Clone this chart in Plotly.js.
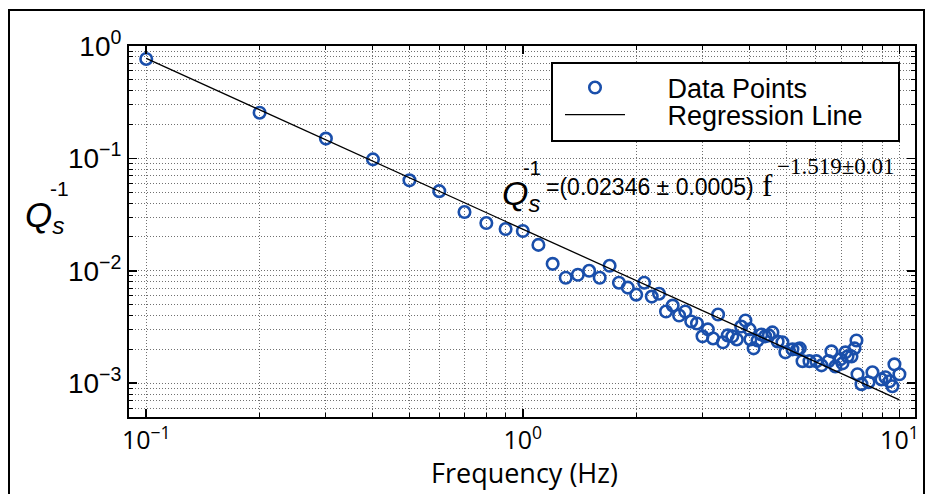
<!DOCTYPE html>
<html><head><meta charset="utf-8">
<script src="https://cdn.plot.ly/plotly-3.0.1.min.js"></script>
<style>html,body{margin:0;padding:0;background:#fff;} #chart{width:933px;height:494px;}</style>
</head><body><div id="chart"></div>
<script>
// ---- data ----
const freq = [0.1,0.2,0.3,0.4,0.5,0.6,0.7,0.8,0.9,1.0,
  1.1,1.2,1.3,1.4,1.5,1.6,1.7,1.8,1.9,2.0,
  2.1,2.2,2.3,2.4,2.5,2.6,2.7,2.8,2.9,3.0,
  3.1,3.2,3.3,3.4,3.5,3.6,3.7,3.8,3.9,4.0,
  4.02,4.1,4.2,4.3,4.4,4.5,4.6,4.75,4.89,4.98,
  5.2,5.36,5.44,5.53,5.77,6.02,6.21,6.48,6.6,6.76,
  6.97,7.06,7.19,7.28,7.46,7.6,7.69,7.74,7.93,8.28,
  8.48,8.96,9.18,9.41,9.58,9.7,10.0];
const qInv = [0.767,0.255,0.150,0.098,0.0638,0.0511,0.0333,0.0266,0.0235,0.0226,
  0.0170,0.01153,0.00867,0.00922,0.0100,0.00867,0.01107,0.00783,0.00708,0.00613,
  0.00783,0.00589,0.00625,0.00434,0.00490,0.00400,0.00434,0.00354,0.00340,0.00261,
  0.00301,0.00250,0.00408,0.00231,0.00266,0.00261,0.00245,0.00319,0.00361,0.00301,
  0.00245,0.00204,0.00240,0.00271,0.00261,0.00266,0.00283,0.00235,0.00231,0.00188,
  0.00200,0.00200,0.00204,0.00157,0.00157,0.00157,0.00144,0.00157,0.00192,0.00141,
  0.00163,0.00150,0.00188,0.00173,0.00173,0.00204,0.00240,0.00120,0.00098,0.00102,
  0.00125,0.00108,0.00113,0.00104,0.00094,0.00147,0.00120];
const regFreq = [0.1, 10];
const regQ = [0.775, 0.00071];
const seriesNames = ['Data Points', 'Regression Line'];
const xTickVals = [0.1, 1, 10];
const xTickText = ['10<sup>\u22121</sup>', '10<sup>0</sup>', '10<sup>1</sup>'];
const yTickVals = [0.001, 0.01, 0.1, 1];
const yTickText = ['10<sup>\u22123</sup>', '10<sup>\u22122</sup>', '10<sup>\u22121</sup>', '10<sup>0</sup>'];
const xTitle = 'Frequency (Hz)';
const qLabel = '<i>Q</i><sub><i>s</i></sub>';
const eqMain = '=(0.02346 \u00b1 0.0005)';
const eqExp = '\u22121.519\u00b10.01';

// ---- layout helpers (pixel -> paper) ----
const W = 933, H = 494, ML = 129, MR = 18, MT = 46, MB = 77;
const PW = W - ML - MR, PH = H - MT - MB;
const px = x => (x - ML) / PW;
const py = y => (H - MB - y) / PH;

const blue = '#1a4fab';
const sans = 'Liberation Sans, Arial, sans-serif';
const serif = 'Liberation Serif, Times New Roman, serif';
const grid = {showgrid: true, gridcolor: '#707070', griddash: '1px,2px', gridwidth: 1};
const pad = '\u00a0\u00a0\u00a0\u00a0\u00a0';

const traces = [
  {x: freq, y: qInv, type: 'scatter', mode: 'markers', name: pad + seriesNames[0], legend: 'legend',
   marker: {symbol: 'circle-open', size: 11.5, color: blue, line: {width: 2.6, color: blue}}},
  {x: regFreq, y: regQ, type: 'scatter', mode: 'lines', name: pad + seriesNames[1], legend: 'legend2',
   line: {color: '#000', width: 1.3}}
];

function ann(text, x, y, font, xanchor) {
  return {text, x: px(x), y: py(y), xref: 'paper', yref: 'paper', showarrow: false,
          xanchor: xanchor || 'center', yanchor: 'middle', font, borderpad: 0};
}

const legFont = {family: sans, size: 27, color: '#000'};
const layout = {
  width: W, height: H,
  margin: {l: ML, r: MR, t: MT, b: MB, pad: 0},
  paper_bgcolor: '#fff', plot_bgcolor: '#fff',
  showlegend: true,
  xaxis: Object.assign({
    type: 'log', range: [Math.log10(0.09), Math.log10(11)],
    tickmode: 'array', tickvals: xTickVals, ticktext: xTickText,
    ticks: 'inside', ticklen: 8, tickwidth: 1.5, tickcolor: '#000',
    showline: true, linecolor: '#000', linewidth: 2, mirror: 'ticks', zeroline: false,
    tickfont: {family: 'Open Sans, sans-serif', size: 25, color: '#000'},
    minor: Object.assign({dtick: 'D1', ticks: 'inside', ticklen: 4, tickwidth: 1, tickcolor: '#000'}, grid)
  }, grid),
  yaxis: Object.assign({
    type: 'log', range: [Math.log10(0.0005), 0],
    tickmode: 'array', tickvals: yTickVals, ticktext: yTickText,
    ticks: 'inside', ticklen: 8, tickwidth: 1.5, tickcolor: '#000',
    showline: true, linecolor: '#000', linewidth: 2, mirror: 'ticks', zeroline: false,
    tickfont: {family: sans, size: 28, color: '#000'},
    minor: Object.assign({dtick: 'D1', ticks: 'inside', ticklen: 4, tickwidth: 1, tickcolor: '#000'}, grid)
  }, grid),
  legend: {x: px(560), y: py(88), xanchor: 'left', yanchor: 'middle',
           bgcolor: 'rgba(0,0,0,0)', borderwidth: 0, itemwidth: 60, font: legFont},
  legend2: {x: px(560), y: py(115), xanchor: 'left', yanchor: 'middle',
           bgcolor: 'rgba(0,0,0,0)', borderwidth: 0, itemwidth: 60, font: legFont},
  shapes: [
    {type: 'rect', xref: 'paper', yref: 'paper', x0: px(552), x1: px(899), y0: py(141), y1: py(63),
     fillcolor: '#fff', line: {color: '#000', width: 2}, layer: 'above'},
    {type: 'rect', xref: 'paper', yref: 'paper', x0: px(9), x1: px(924), y0: py(505), y1: py(10),
     fillcolor: 'rgba(0,0,0,0)', line: {color: '#000', width: 2}, layer: 'above'}
  ],
  annotations: [
    // x-axis title
    ann(xTitle, 524, 472, {family: 'Open Sans, sans-serif', size: 27, color: '#000'}),
    // y-axis title Q_s^-1
    ann(qLabel, 24, 217, {family: sans, size: 35, color: '#000'}, 'left'),
    ann('-1', 59, 188, {family: sans, size: 21, color: '#000'}),
    // equation
    ann(qLabel, 501, 195, {family: sans, size: 34, color: '#000'}, 'left'),
    ann('-1', 532, 168, {family: sans, size: 20, color: '#000'}),
    ann(eqMain, 545, 187, {family: sans, size: 23, color: '#000'}, 'left'),
    ann('f', 767, 185, {family: serif, size: 31, color: '#000'}),
    ann(eqExp, 776, 166, {family: serif, size: 23, color: '#000'}, 'left')
  ]
};

Plotly.newPlot('chart', traces, layout, {displayModeBar: false, staticPlot: true});
</script>
</body></html>
